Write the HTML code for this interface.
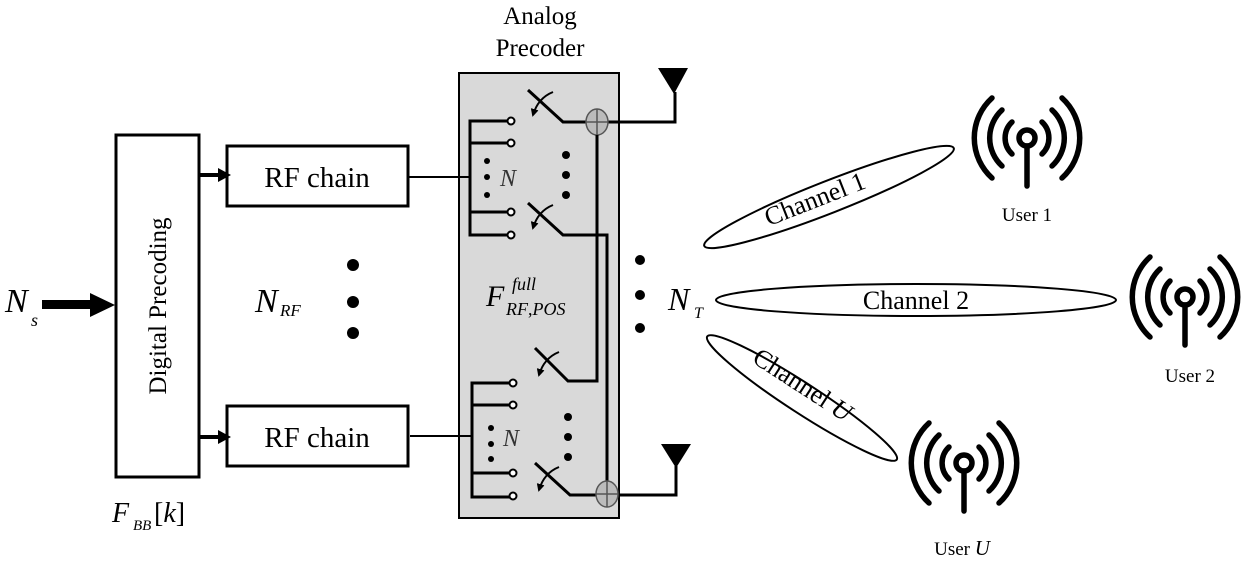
<!DOCTYPE html>
<html><head><meta charset="utf-8"><style>body{margin:0;background:#fff}svg{display:block}</style></head><body>
<svg width="1244" height="567" viewBox="0 0 1244 567" xmlns="http://www.w3.org/2000/svg" font-family="Liberation Serif, serif">
<defs>
<marker id="ah" markerWidth="8" markerHeight="8" refX="6" refY="4" orient="auto" markerUnits="userSpaceOnUse"><path d="M0,0 L8,4 L0,8 z" fill="#000"/></marker>
<g id="user" fill="none" stroke="#000" stroke-width="5.5" stroke-linecap="round">
<circle cx="0" cy="0" r="8"/>
<line x1="0" y1="8" x2="0" y2="48"/>
<path d="M-15,-16 A22,22 0 0 0 -15,16"/><path d="M15,-16 A22,22 0 0 1 15,16"/>
<path d="M-25,-28 A38,38 0 0 0 -25,28"/><path d="M25,-28 A38,38 0 0 1 25,28"/>
<path d="M-35,-40 A54,54 0 0 0 -35,40"/><path d="M35,-40 A54,54 0 0 1 35,40"/>
</g>
</defs>
<rect x="459" y="73" width="160" height="445" fill="#d9d9d9" stroke="#000" stroke-width="2"/>
<text x="540" y="24" font-size="25" text-anchor="middle">Analog</text>
<text x="540" y="56" font-size="25" text-anchor="middle">Precoder</text>
<rect x="116" y="135" width="83" height="342" fill="#fff" stroke="#000" stroke-width="3"/>
<text transform="translate(166,306) rotate(-90)" font-size="25" text-anchor="middle">Digital Precoding</text>
<text x="112" y="522" font-size="28" font-style="italic">F</text>
<text x="133" y="530" font-size="15" font-style="italic">BB</text>
<text x="154" y="522" font-size="28">[<tspan font-style="italic">k</tspan>]</text>
<text x="5" y="312" font-size="34" font-style="italic">N</text>
<text x="31" y="326" font-size="18" font-style="italic">s</text>
<rect x="42" y="300" width="50" height="9" fill="#000"/>
<path d="M90,293 L115,305 L90,317 z" fill="#000"/>
<rect x="227" y="146" width="181" height="60" fill="#fff" stroke="#000" stroke-width="3"/>
<text x="317" y="187" font-size="29" text-anchor="middle">RF chain</text>
<rect x="227" y="406" width="181" height="60" fill="#fff" stroke="#000" stroke-width="3"/>
<text x="317" y="447" font-size="29" text-anchor="middle">RF chain</text>
<line x1="199" y1="175" x2="224" y2="175" stroke="#000" stroke-width="4"/>
<path d="M218,168 L231,175 L218,182 z" fill="#000"/>
<line x1="199" y1="437" x2="224" y2="437" stroke="#000" stroke-width="4"/>
<path d="M218,430 L231,437 L218,444 z" fill="#000"/>
<text x="255" y="312" font-size="34" font-style="italic">N</text>
<text x="280" y="316" font-size="17" font-style="italic">RF</text>
<circle cx="353" cy="265" r="6"/><circle cx="353" cy="302" r="6"/><circle cx="353" cy="333" r="6"/>
<g fill="none" stroke="#000" stroke-width="3">
<line x1="408" y1="177" x2="470" y2="177" stroke-width="2"/>
<polyline points="508,121 470,121 470,235 508,235"/>
<line x1="470" y1="143" x2="508" y2="143"/>
<line x1="470" y1="212" x2="508" y2="212"/>
<polyline points="528,90 563,122 597,122"/>
<polyline points="528,203 563,235 607,235 607,493"/>
<polyline points="597,122 597,381 568,381 535,348"/>
<polyline points="608,122 675,122 675,92"/>
<line x1="472" y1="436" x2="410" y2="436" stroke-width="2"/>
<polyline points="510,383 472,383 472,497 510,497"/>
<line x1="472" y1="405" x2="510" y2="405"/>
<line x1="472" y1="473" x2="510" y2="473"/>
<polyline points="535,463 570,495 607,495"/>
<polyline points="617,495 676,495 676,466"/>
</g>
<g fill="none" stroke="#000" stroke-width="2">
<path d="M553,92 Q538,98 533,115" marker-end="url(#ah)"/>
<path d="M553,205 Q538,211 533,228" marker-end="url(#ah)"/>
<path d="M559,352 Q544,358 539,375" marker-end="url(#ah)"/>
<path d="M559,467 Q544,473 539,490" marker-end="url(#ah)"/>
</g>
<g fill="#fff" stroke="#000" stroke-width="2">
<circle cx="511" cy="121" r="3.5"/><circle cx="511" cy="143" r="3.5"/><circle cx="511" cy="212" r="3.5"/><circle cx="511" cy="235" r="3.5"/>
<circle cx="513" cy="383" r="3.5"/><circle cx="513" cy="405" r="3.5"/><circle cx="513" cy="473" r="3.5"/><circle cx="513" cy="496" r="3.5"/>
</g>
<g fill="#bbb" stroke="#555" stroke-width="1.5">
<ellipse cx="597" cy="122" rx="11" ry="13"/><line x1="586" y1="122" x2="608" y2="122"/><line x1="597" y1="109" x2="597" y2="135"/>
<ellipse cx="607" cy="494" rx="11" ry="13"/><line x1="596" y1="494" x2="618" y2="494"/><line x1="607" y1="481" x2="607" y2="507"/>
</g>
<line x1="597" y1="135" x2="597" y2="381" stroke="#000" stroke-width="3"/>
<path d="M658,68 L688,68 L674,94 z" fill="#000"/>
<path d="M661,444 L691,444 L676,468 z" fill="#000"/>
<g fill="#000">
<circle cx="487" cy="161" r="3"/><circle cx="487" cy="177" r="3"/><circle cx="487" cy="195" r="3"/>
<circle cx="491" cy="428" r="3"/><circle cx="491" cy="444" r="3"/><circle cx="491" cy="459" r="3"/>
<circle cx="566" cy="155" r="4"/><circle cx="566" cy="175" r="4"/><circle cx="566" cy="195" r="4"/>
<circle cx="568" cy="417" r="4"/><circle cx="568" cy="437" r="4"/><circle cx="568" cy="457" r="4"/>
<circle cx="640" cy="260" r="5"/><circle cx="640" cy="295" r="5"/><circle cx="640" cy="328" r="5"/>
</g>
<text x="500" y="186" font-size="24" font-style="italic" fill="#333">N</text>
<text x="503" y="446" font-size="24" font-style="italic" fill="#333">N</text>
<text x="486" y="306" font-size="30" font-style="italic">F</text>
<text x="512" y="290" font-size="18" font-style="italic">full</text>
<text x="506" y="315" font-size="18" font-style="italic">RF<tspan font-style="normal">,</tspan>POS</text>
<text x="668" y="310" font-size="32" font-style="italic">N</text>
<text x="694" y="318" font-size="16" font-style="italic">T</text>
<g fill="none" stroke="#000" stroke-width="2">
<ellipse cx="0" cy="0" rx="134" ry="16" transform="translate(829,197) rotate(-21.4)"/>
<ellipse cx="916" cy="300" rx="200" ry="16"/>
<ellipse cx="0" cy="0" rx="113" ry="15" transform="translate(802,398) rotate(33)"/>
</g>
<text transform="translate(818,207) rotate(-21.4)" font-size="26" text-anchor="middle">Channel 1</text>
<text x="916" y="309" font-size="26" text-anchor="middle">Channel 2</text>
<text transform="translate(798,392) rotate(33)" font-size="26" text-anchor="middle">Channel <tspan font-style="italic">U</tspan></text>
<use href="#user" x="1027" y="138"/>
<use href="#user" x="1185" y="297"/>
<use href="#user" x="964" y="463"/>
<text x="1027" y="221" font-size="19" text-anchor="middle">User 1</text>
<text x="1190" y="382" font-size="19" text-anchor="middle">User 2</text>
<text x="962" y="555" font-size="19" text-anchor="middle">User <tspan font-style="italic" font-size="21">U</tspan></text>
</svg>
</body></html>
